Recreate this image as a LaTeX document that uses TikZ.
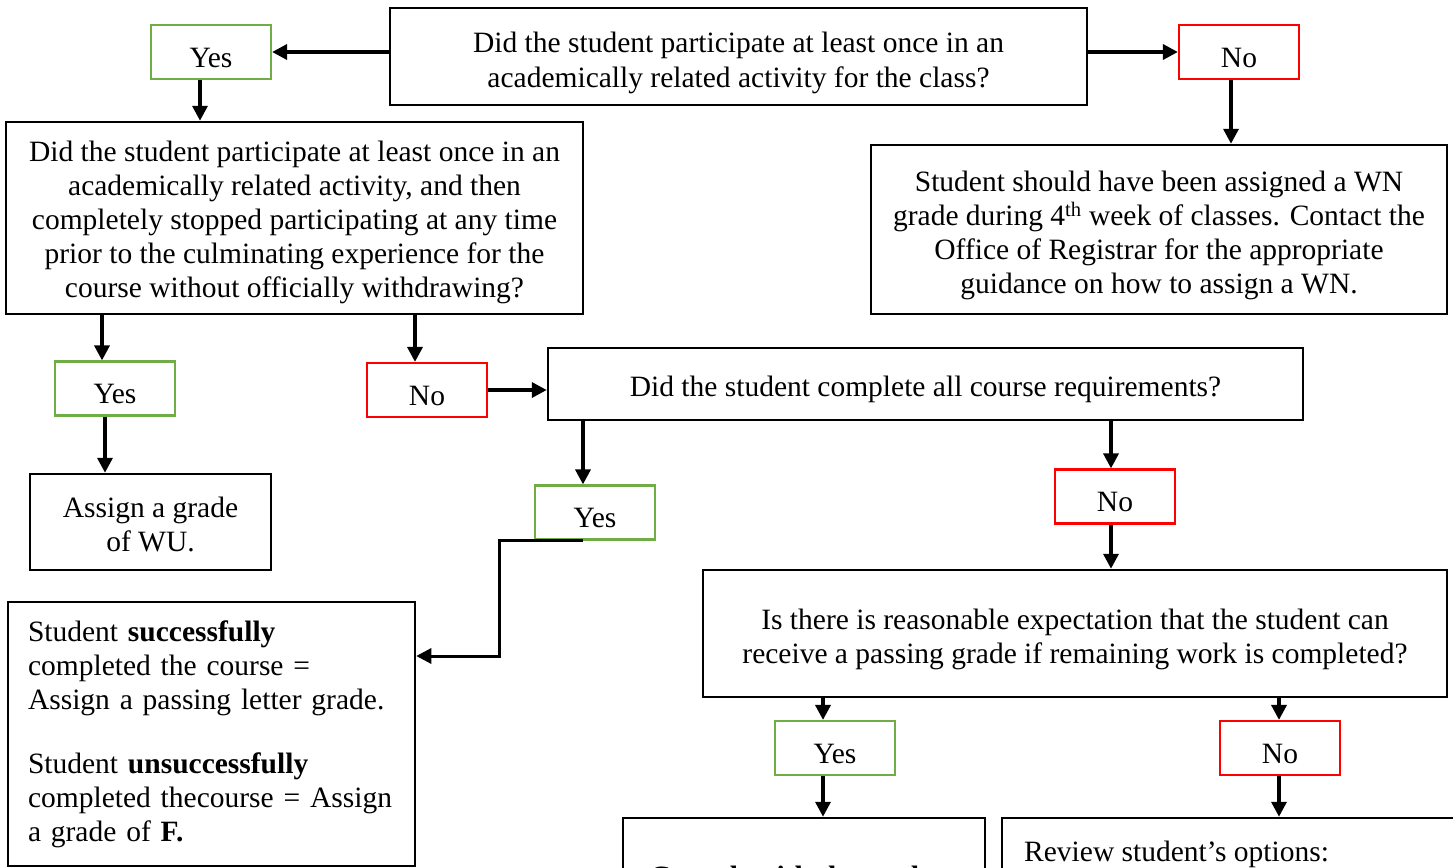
\documentclass[tikz,border=0pt]{standalone}
\usepackage{fontspec}
\setmainfont{Liberation Serif}
\usetikzlibrary{arrows.meta}
\definecolor{yesgreen}{RGB}{112,173,71}
\definecolor{nored}{RGB}{255,0,0}
\begin{document}
\begin{tikzpicture}[x=1pt,y=-1pt,
  txt/.style={font=\fontsize{29.5pt}{34pt}\selectfont,align=center,inner sep=0pt},
  box/.style={draw=black,line width=2.5pt,inner sep=0pt},
  lbl/.style={line width=2.2pt,minimum width=120pt,minimum height=54pt,inner sep=0pt},
  yesbox/.style={lbl,draw=yesgreen},
  nobox/.style={lbl,draw=nored},
  arr/.style={line width=3.5pt,-{Triangle[length=15pt,width=15pt]}}]
\useasboundingbox (0,0) rectangle (1453,867);
\clip (0,0) rectangle (1453,867);

% frames
\node[box,minimum width=697pt,minimum height=97pt] (top) at (738.5,56.5) {};
\node[yesbox] (yes1) at (211,52) {};
\node[nobox] (no1) at (1239,52) {};
\node[box,minimum width=577pt,minimum height=192pt] (q2) at (294.5,218) {};
\node[box,minimum width=576pt,minimum height=169pt] (wn) at (1159,229.5) {};
\node[yesbox] (yes2) at (115,388.5) {};
\node[nobox] (no2) at (427,390) {};
\node[box,minimum width=755pt,minimum height=72pt] (q3) at (925.5,384) {};
\node[box,minimum width=241pt,minimum height=96pt] (wu) at (150.5,522) {};
\node[yesbox] (yes3) at (595,512.5) {};
\node[nobox] (no3) at (1115,496.5) {};
\node[box,minimum width=407pt,minimum height=264pt] (passf) at (211.5,734) {};
\node[box,minimum width=744pt,minimum height=127pt] (q4) at (1075,633.5) {};
\node[yesbox] (yes4) at (835,748) {};
\node[nobox] (no4) at (1280,748) {};
\node[box,minimum width=362pt,minimum height=200pt] (consult) at (804,918) {};
\node[box,minimum width=480pt,minimum height=200pt] (review) at (1242,918) {};

% texts
\node[txt,font=\fontsize{29.5pt}{35pt}\selectfont] (top-t) at ([yshift=-6.5pt]top.center)
  {Did the student participate at least once in an\\academically related activity for the class?};
\node[txt] (yes1-t) at ([yshift=-5.5pt]yes1.center) {Yes};
\node[txt] (no1-t) at ([yshift=-5.5pt]no1.center) {No};
\node[txt] (q2-t) at ([yshift=-4pt]q2.center)
  {Did the student participate at least once in an\\academically related activity, and then\\completely stopped participating at any time\\prior to the culminating experience for the\\course without officially withdrawing?};
\node[txt] (wn-t) at ([yshift=-5.5pt]wn.center)
  {Student should have been assigned a WN\\grade during 4\textsuperscript{th} week of classes. Contact the\\Office of Registrar for the appropriate\\guidance on how to assign a WN.};
\node[txt] (yes2-t) at ([yshift=-5.5pt]yes2.center) {Yes};
\node[txt] (no2-t) at ([yshift=-5.5pt]no2.center) {No};
\node[txt] (q3-t) at ([yshift=-5.5pt]q3.center) {Did the student complete all course requirements?};
\node[txt] (wu-t) at ([yshift=-2pt]wu.center) {Assign a grade\\of WU.};
\node[txt] (yes3-t) at ([yshift=-5.5pt]yes3.center) {Yes};
\node[txt] (no3-t) at ([yshift=-5.5pt]no3.center) {No};
\node[txt,align=left,text width=367pt] (passf-t) at (passf.center)
  {Student \textbf{successfully}\\completed the course =\\Assign a passing letter grade.\\[30pt]Student \textbf{unsuccessfully}\\completed thecourse = Assign\\a grade of \textbf{F.}};
\node[txt] (q4-t) at ([yshift=-5.5pt]q4.center)
  {Is there is reasonable expectation that the student can\\receive a passing grade if remaining work is completed?};
\node[txt] (yes4-t) at ([yshift=-5.5pt]yes4.center) {Yes};
\node[txt] (no4-t) at ([yshift=-5.5pt]no4.center) {No};
\node[txt,anchor=base] (consult-t) at (804,886) {\textbf{Consult with the student}};
\node[txt,anchor=base west] (review-t) at (1024,861) {Review student’s options:};

% connectors
\draw[arr] (yes1.east -| top.west) -- (yes1.east);
\draw[arr] (no1.west -| top.east) -- (no1.west);
\draw[arr] ([xshift=-11pt]yes1.south) -- ([xshift=-11pt]yes1.south |- q2.north);
\draw[arr] ([xshift=-8pt]no1.south) -- ([xshift=-8pt]no1.south |- wn.north);
\draw[arr] ([xshift=-13pt]yes2.north |- q2.south) -- ([xshift=-13pt]yes2.north);
\draw[arr] ([xshift=-12pt]no2.north |- q2.south) -- ([xshift=-12pt]no2.north);
\draw[arr] (no2.east) -- (no2.east -| q3.west);
\draw[arr] ([xshift=-10pt]yes2.south) -- ([xshift=-10pt]yes2.south |- wu.north);
\draw[arr] ([xshift=-12pt]yes3.north |- q3.south) -- ([xshift=-12pt]yes3.north);
\draw[arr] ([xshift=-4pt]no3.north |- q3.south) -- ([xshift=-4pt]no3.north);
\coordinate (bend) at (499,656);
\draw[arr,line width=3pt] ([xshift=-12pt]yes3.south) -| (bend) -- (bend -| passf.east);
\draw[arr] ([xshift=-4pt]no3.south) -- ([xshift=-4pt]no3.south |- q4.north);
\draw[arr] ([xshift=-12pt]yes4.north |- q4.south) -- ([xshift=-12pt]yes4.north);
\draw[arr] ([xshift=-1pt]no4.north |- q4.south) -- ([xshift=-1pt]no4.north);
\draw[arr] ([xshift=-12pt]yes4.south) -- ([xshift=-12pt]yes4.south |- consult.north);
\draw[arr] ([xshift=-1pt]no4.south) -- ([xshift=-1pt]no4.south |- review.north);
\end{tikzpicture}
\end{document}
